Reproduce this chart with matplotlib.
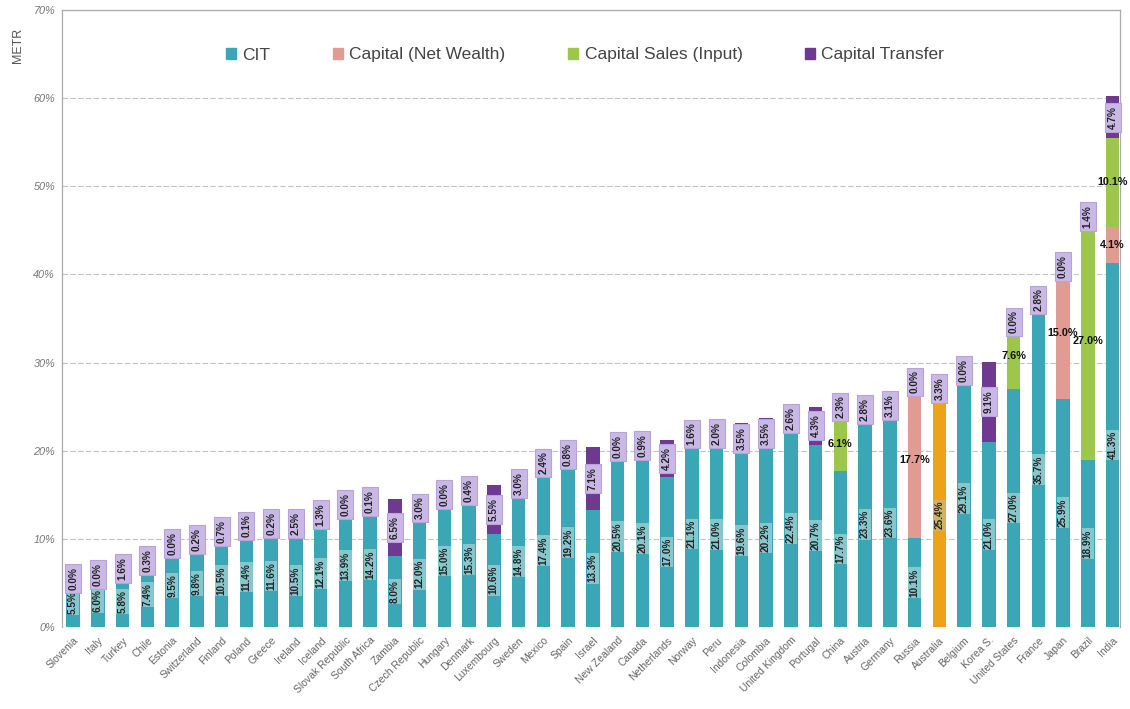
import matplotlib
matplotlib.use("Agg")
import matplotlib.pyplot as plt
from matplotlib.patches import Patch
import numpy as np

countries = ["Slovenia", "Italy", "Turkey", "Chile", "Estonia", "Switzerland", "Finland", "Poland",
             "Greece", "Ireland", "Iceland", "Slovak Republic", "South Africa", "Zambia",
             "Czech Republic", "Hungary", "Denmark", "Luxembourg", "Sweden", "Mexico", "Spain",
             "Israel", "New Zealand", "Canada", "Netherlands", "Norway", "Peru", "Indonesia",
             "Colombia", "United Kingdom", "Portugal", "China", "Austria", "Germany", "Russia",
             "Australia", "Belgium", "Korea S.", "United States", "France", "Japan", "Brazil", "India"]
cit = [5.5, 6.0, 5.8, 7.4, 9.5, 9.8, 10.5, 11.4, 11.6, 10.5, 12.1, 13.9, 14.2, 8.0, 12.0, 15.0,
       15.3, 10.6, 14.8, 17.4, 19.2, 13.3, 20.5, 20.1, 17.0, 21.1, 21.0, 19.6, 20.2, 22.4, 20.7,
       17.7, 23.3, 23.6, 10.1, 25.4, 29.1, 21.0, 27.0, 35.7, 25.9, 18.9, 41.3]
net_wealth = [0, 0, 0, 0, 0, 0, 0, 0, 0, 0, 0, 0, 0, 0, 0, 0, 0, 0, 0, 0, 0, 0, 0, 0, 0, 0, 0, 0,
              0, 0, 0, 0, 0, 0, 17.7, 0, 0, 0, 0, 0, 15.0, 0, 4.1]
sales = [0, 0, 0, 0, 0, 0, 0, 0, 0, 0, 0, 0, 0, 0, 0, 0, 0, 0, 0, 0, 0, 0, 0, 0, 0, 0, 0, 0,
         0, 0, 0, 6.1, 0, 0, 0, 0, 0, 0, 7.6, 0, 0, 27.0, 10.1]
transfer = [0.0, 0.0, 1.6, 0.3, 0.0, 0.2, 0.7, 0.1, 0.2, 2.5, 1.3, 0.0, 0.1, 6.5, 3.0, 0.0, 0.4,
            5.5, 3.0, 2.4, 0.8, 7.1, 0.0, 0.9, 4.2, 1.6, 2.0, 3.5, 3.5, 2.6, 4.3, 2.3, 2.8, 3.1,
            0.0, 3.3, 0.0, 9.1, 0.0, 2.8, 0.0, 1.4, 4.7]
highlight = "Australia"
yticks = [0, 10, 20, 30, 40, 50, 60, 70]

teal = "#3BA7B6"
pink = "#E09C92"
green = "#9DC74B"
purple = "#6F3891"
orange = "#EEA21A"

plt.rcParams['font.family'] = ['Liberation Sans', 'DejaVu Sans']

fig = plt.figure(figsize=(11.3, 7.09), dpi=100)
ax = fig.add_axes([62/1130, 1-627/709, (1120-62)/1130, (627-10)/709])

x = np.arange(len(countries))
cit_a = np.array(cit); nw_a = np.array(net_wealth); s_a = np.array(sales); t_a = np.array(transfer)
w = 0.55
cit_colors = [orange if c == highlight else teal for c in countries]
ax.bar(x, cit_a, w, color=cit_colors, zorder=2)
ax.bar(x, nw_a, w, bottom=cit_a, color=pink, zorder=2)
ax.bar(x, s_a, w, bottom=cit_a + nw_a, color=green, zorder=2)
ax.bar(x, t_a, w, bottom=cit_a + nw_a + s_a, color=purple, zorder=2)

for i in range(len(countries)):
    c = cit_a[i]
    fc = "#CDB56A" if countries[i] == highlight else "#8FCBD0"
    ax.text(x[i], c / 2, f"{c:.1f}%", rotation=90, ha='center', va='center', fontsize=7.2,
            fontweight='bold', color='#222222', zorder=4,
            bbox=dict(boxstyle='square,pad=0.12', fc=fc, ec='none', alpha=0.9))
    if nw_a[i] > 0:
        ax.text(x[i], c + nw_a[i] / 2, f"{nw_a[i]:.1f}%", ha='center', va='center', fontsize=7.8,
                fontweight='bold', color='#111111', zorder=4)
    if s_a[i] > 0:
        ax.text(x[i], c + nw_a[i] + s_a[i] / 2, f"{s_a[i]:.1f}%", ha='center', va='center',
                fontsize=7.8, fontweight='bold', color='#111111', zorder=4)
    b = c + nw_a[i] + s_a[i]
    ax.text(x[i], b + t_a[i] / 2, f"{t_a[i]:.1f}%", rotation=90, ha='center', va='center',
            fontsize=7.2, fontweight='bold', color='#222222', zorder=4,
            bbox=dict(boxstyle='square,pad=0.3', fc='#C9B8E6', ec='#B7A3DC', lw=0.8))

ax.set_xlim(-0.45, len(countries) - 0.7)
ax.set_ylim(0, 70)
ax.set_yticks(yticks)
ax.set_yticklabels([f"{v}%" for v in yticks], fontsize=7.8, color='#777777', fontstyle='italic')
ax.set_xticks(x)
ax.set_xticklabels(countries, rotation=45, ha='right', rotation_mode='anchor', fontsize=7.5,
                   color='#666666')
ax.tick_params(axis='x', length=0, pad=6)
ax.tick_params(axis='y', length=0, pad=5)
ax.yaxis.grid(True, color='#C4C4C4', linestyle=(0, (5, 2)), linewidth=0.8, zorder=0)
ax.set_axisbelow(True)
for s in ['left', 'right', 'top']:
    ax.spines[s].set_color('#AAAAAA')
    ax.spines[s].set_linewidth(0.9)
ax.spines['bottom'].set_visible(False)

fig.text(18/1130, 1-45/709, "METR", rotation=90, ha='center', va='center', fontsize=9,
         color='#555555')

handles = [Patch(color=teal), Patch(color=pink), Patch(color=green), Patch(color=purple)]
labels = ["CIT", "Capital (Net Wealth)", "Capital Sales (Input)", "Capital Transfer"]
ax.legend(handles, labels, ncol=4, frameon=False, loc='center left',
          bbox_to_anchor=((226-62)/1058, (627-55)/617), fontsize=12.5, handlelength=0.55,
          handleheight=0.6, handletextpad=0.4, columnspacing=3.6, labelcolor='#444444',
          borderaxespad=0, borderpad=0)

fig.savefig("out.png", dpi=100)
